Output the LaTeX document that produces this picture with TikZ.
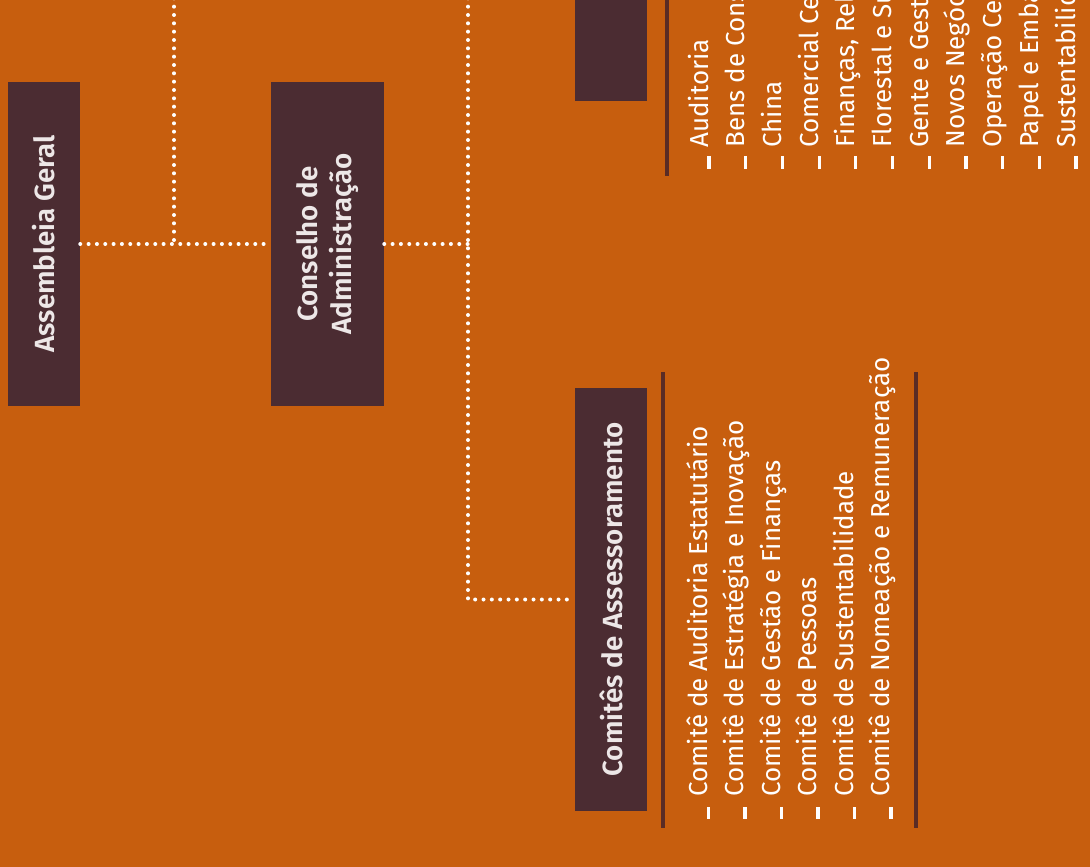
\documentclass[tikz,border=0pt]{standalone}
\usepackage{fontspec}
\setmainfont{Fira Sans}[BoldFont=* SemiBold]
\usetikzlibrary{positioning}

\definecolor{bgorange}{HTML}{C75E0E}
\definecolor{boxplum}{HTML}{4B2C32}
\definecolor{rulebrown}{HTML}{5A2C25}
\definecolor{titlegrey}{HTML}{EDE7E7}

\begin{document}
\begin{tikzpicture}[x=0.75pt,y=-0.75pt,
    orgbox/.style={rectangle,fill=boxplum,rotate=90,inner sep=0pt,text=titlegrey,align=center,
      font=\bfseries\fontsize{20.8}{25.5}\selectfont},
    dotline/.style={white,line width=3pt,line cap=round,dash pattern=on 0pt off 6.25pt},
    listitem/.style={rotate=90,anchor=base west,inner sep=0pt,text=white,font=\fontsize{19.5}{24}\selectfont},
    listtick/.style={white,line width=2.4pt},
    listrule/.style={rulebrown,line width=2.3pt}]
  \useasboundingbox (0,0) rectangle (1090,867);
  \clip (0,0) rectangle (1090,867);
  \fill[bgorange] (0,0) rectangle (1090,867);

  \node[orgbox,minimum width=243pt,minimum height=54pt] (AG) at (44,244) {Assembleia Geral};
  \node[orgbox,minimum width=243pt,minimum height=84.75pt] (CA) at (327.5,244) {Conselho de\\Administração};
  \node[orgbox,minimum width=317.25pt,minimum height=54pt] (CO) at (611,599.5) {Comitês de Assessoramento};
  \node[orgbox,minimum width=151.5pt,minimum height=54pt] (DE) at (611,0) {};

  \coordinate (T1) at (174,-10);
  \coordinate (J1) at (174,244);
  \coordinate (T2) at (468,-10);
  \coordinate (J2) at (468,244);

  \path[dotline] (AG) edge (CA)
    (T1) edge (J1)
    (CA) edge (J2);
  \draw[dotline] (T2) |- (CO);

  % diretorias
  \draw[listrule] (667,-10) -- (667,176);
  \foreach \t [count=\i] in {Auditoria,Bens de Consumo,China,Comercial Celulose,
      {Finanças, Relações com Investidores},Florestal e Suprimentos,Gente e Gestão,
      Novos Negócios,Operação Celulose,Papel e Embalagem,Sustentabilidade} {
    \node[listitem] (U\i) at ({708+36.7*(\i-1)},148) {\t};
    \draw[listtick] (U\i.base west) ++(1,8) -- ++(0,13);
  }

  % comites
  \draw[listrule] (663,372) -- (663,828);
  \draw[listrule] (916,372) -- (916,828);
  \foreach \t [count=\i] in {Comitê de Auditoria Estatutário,Comitê de Estratégia e Inovação,
      Comitê de Gestão e Finanças,Comitê de Pessoas,Comitê de Sustentabilidade,
      Comitê de Nomeação e Remuneração} {
    \node[listitem] (C\i) at ({707+36.5*(\i-1)},797) {\t};
    \draw[listtick] (C\i.base west) ++(1.5,10) -- ++(0,12);
  }
\end{tikzpicture}
\end{document}
